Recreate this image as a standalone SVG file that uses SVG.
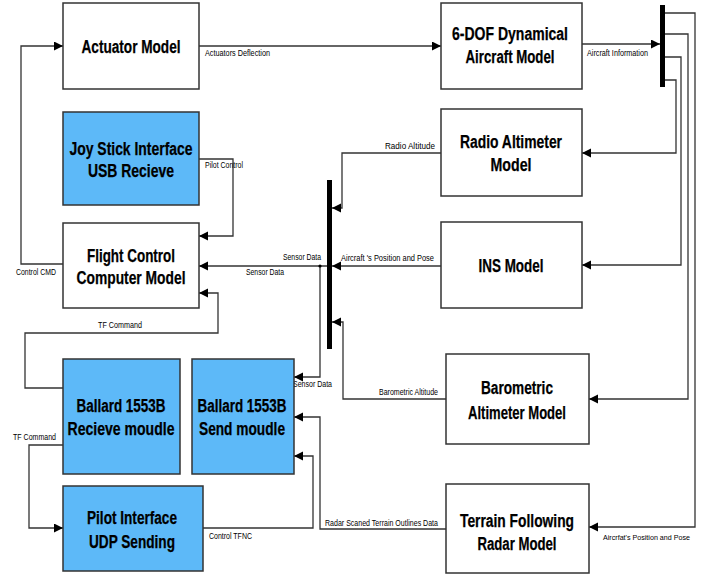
<svg xmlns="http://www.w3.org/2000/svg" width="703" height="574" viewBox="0 0 703 574">
<style>
.box{fill:#fff;stroke:#333;stroke-width:1.5}
.blue{fill:#5DB9F8;stroke:#333;stroke-width:1.5}
.t{font-family:"Liberation Sans",Arial,sans-serif;font-weight:bold;font-size:18px;fill:#000;stroke:#000;stroke-width:0.25;text-anchor:middle}
.l{font-family:"Liberation Sans",Arial,sans-serif;font-size:9px;fill:#000}
.c{fill:none;stroke:#333;stroke-width:1.3}
.bus{fill:#000}
</style>
<defs>
<marker id="a" markerUnits="userSpaceOnUse" markerWidth="10" markerHeight="10" refX="9" refY="4.5" orient="auto">
<path d="M0,0 L9,4.5 L0,9 z" fill="#000"/>
</marker>
</defs>
<rect width="703" height="574" fill="#fff"/>
<g id="connectors">
<path class="c" d="M199,46 H441" marker-end="url(#a)"/>
<path class="c" d="M582,44 H660" marker-end="url(#a)"/>
<path class="c" d="M665,80 H676 V153 H582" marker-end="url(#a)"/>
<path class="c" d="M665,57 H681 V265 H582" marker-end="url(#a)"/>
<path class="c" d="M665,34 H688 V399 H589" marker-end="url(#a)"/>
<path class="c" d="M665,13 H695 V527 H589" marker-end="url(#a)"/>
<path class="c" d="M441,153 H342 V208 H332" marker-end="url(#a)"/>
<path class="c" d="M441,266 H332" marker-end="url(#a)"/>
<path class="c" d="M446,399 H343 V322 H332" marker-end="url(#a)"/>
<path class="c" d="M327,266 H199" marker-end="url(#a)"/>
<path class="c" d="M320,266 V377 H294" marker-end="url(#a)"/>
<circle cx="320" cy="266" r="1.6" fill="#000"/>
<path class="c" d="M199,159 H233 V236 H199" marker-end="url(#a)"/>
<path class="c" d="M63,264 H21 V46 H63" marker-end="url(#a)"/>
<path class="c" d="M63,388 H25 V333 H218 V293 H199" marker-end="url(#a)"/>
<path class="c" d="M63,445 H29 V528 H63" marker-end="url(#a)"/>
<path class="c" d="M203,528 H313 V456 H294" marker-end="url(#a)"/>
<path class="c" d="M446,529 H320 V417 H294" marker-end="url(#a)"/>
<text class="l" x="205" y="56" textLength="65" lengthAdjust="spacingAndGlyphs">Actuators Deflection</text>
<text class="l" x="587" y="56" textLength="61" lengthAdjust="spacingAndGlyphs">Aircraft Information</text>
<text class="l" x="205" y="168" textLength="38" lengthAdjust="spacingAndGlyphs">Pilot Control</text>
<text class="l" x="385" y="149" textLength="50" lengthAdjust="spacingAndGlyphs">Radio  Altitude</text>
<text class="l" x="341" y="261" textLength="93" lengthAdjust="spacingAndGlyphs">Aircraft 's  Position and  Pose</text>
<text class="l" x="283" y="260" textLength="38" lengthAdjust="spacingAndGlyphs">Sensor Data</text>
<text class="l" x="246" y="275" textLength="38" lengthAdjust="spacingAndGlyphs">Sensor Data</text>
<text class="l" x="16" y="275" textLength="40" lengthAdjust="spacingAndGlyphs">Control CMD</text>
<text class="l" x="98" y="328" textLength="44" lengthAdjust="spacingAndGlyphs">TF Command</text>
<text class="l" x="293" y="387" textLength="39" lengthAdjust="spacingAndGlyphs">Sensor Data</text>
<text class="l" x="379" y="395" textLength="59" lengthAdjust="spacingAndGlyphs">Barometric Altitude</text>
<text class="l" x="13" y="440" textLength="43" lengthAdjust="spacingAndGlyphs">TF Command</text>
<text class="l" x="209" y="539" textLength="43" lengthAdjust="spacingAndGlyphs">Control TFNC</text>
<text class="l" x="325" y="526" textLength="113" lengthAdjust="spacingAndGlyphs">Radar Scaned Terrain Outlines Data</text>
<text class="l" x="603" y="540" style="font-size:7.5px" textLength="87" lengthAdjust="spacingAndGlyphs">Aircrfat's Position and Pose</text>
</g>
<g id="bus-right"><rect class="bus" x="660" y="5" width="5" height="82"/></g>
<g id="bus-center"><rect class="bus" x="327" y="180" width="5" height="169"/></g>
<g id="actuator">
<rect class="box" x="63" y="3" width="136" height="86"/>
<text class="t" x="131" y="53" textLength="99" lengthAdjust="spacingAndGlyphs">Actuator Model</text>
</g>
<g id="joystick">
<rect class="blue" x="63" y="112" width="136" height="93"/>
<text class="t" x="131" y="155" textLength="123" lengthAdjust="spacingAndGlyphs">Joy Stick Interface</text>
<text class="t" x="131" y="177" textLength="86" lengthAdjust="spacingAndGlyphs">USB Recieve</text>
</g>
<g id="fcc">
<rect class="box" x="63" y="223" width="136" height="85"/>
<text class="t" x="131" y="262" textLength="88" lengthAdjust="spacingAndGlyphs">Flight Control</text>
<text class="t" x="131" y="284" textLength="109" lengthAdjust="spacingAndGlyphs">Computer Model</text>
</g>
<g id="ballard-rx">
<rect class="blue" x="63" y="359" width="117" height="115"/>
<text class="t" x="121" y="412" textLength="89" lengthAdjust="spacingAndGlyphs">Ballard 1553B</text>
<text class="t" x="121" y="435" textLength="107" lengthAdjust="spacingAndGlyphs">Recieve moudle</text>
</g>
<g id="ballard-tx">
<rect class="blue" x="192" y="359" width="102" height="115"/>
<text class="t" x="242" y="412" textLength="89" lengthAdjust="spacingAndGlyphs">Ballard 1553B</text>
<text class="t" x="242" y="435" textLength="86" lengthAdjust="spacingAndGlyphs">Send moudle</text>
</g>
<g id="pilot">
<rect class="blue" x="63" y="486" width="140" height="85"/>
<text class="t" x="132" y="524" textLength="90" lengthAdjust="spacingAndGlyphs">Pilot Interface</text>
<text class="t" x="132" y="548" textLength="86" lengthAdjust="spacingAndGlyphs">UDP Sending</text>
</g>
<g id="sixdof">
<rect class="box" x="441" y="3" width="141" height="86"/>
<text class="t" x="510" y="40" textLength="116" lengthAdjust="spacingAndGlyphs">6-DOF Dynamical</text>
<text class="t" x="510" y="63" textLength="89" lengthAdjust="spacingAndGlyphs">Aircraft Model</text>
</g>
<g id="radio">
<rect class="box" x="441" y="109" width="141" height="87"/>
<text class="t" x="511" y="148" textLength="102" lengthAdjust="spacingAndGlyphs">Radio Altimeter</text>
<text class="t" x="511" y="171" textLength="41" lengthAdjust="spacingAndGlyphs">Model</text>
</g>
<g id="ins">
<rect class="box" x="441" y="222" width="141" height="86"/>
<text class="t" x="511" y="272" textLength="65" lengthAdjust="spacingAndGlyphs">INS Model</text>
</g>
<g id="baro">
<rect class="box" x="446" y="354" width="143" height="90"/>
<text class="t" x="517" y="394" textLength="72" lengthAdjust="spacingAndGlyphs">Barometric</text>
<text class="t" x="517" y="419" textLength="98" lengthAdjust="spacingAndGlyphs">Altimeter Model</text>
</g>
<g id="terrain">
<rect class="box" x="446" y="484" width="143" height="89"/>
<text class="t" x="517" y="527" textLength="114" lengthAdjust="spacingAndGlyphs">Terrain Following</text>
<text class="t" x="517" y="550" textLength="79" lengthAdjust="spacingAndGlyphs">Radar Model</text>
</g>
</svg>
